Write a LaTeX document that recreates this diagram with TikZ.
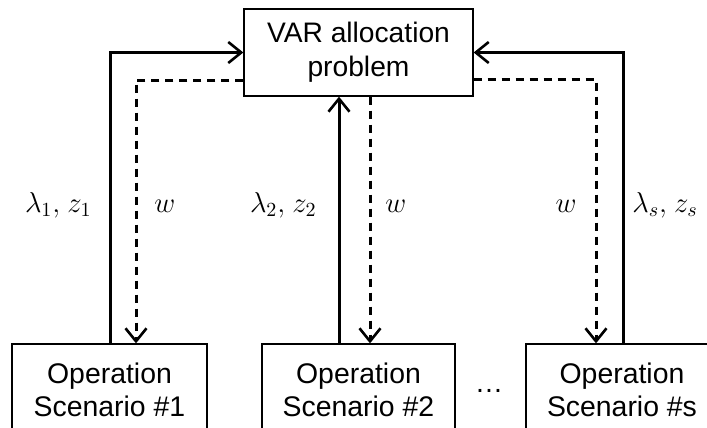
\documentclass[tikz,border=0pt]{standalone}
\usepackage{fontspec}
\setmainfont{Liberation Sans}
\usetikzlibrary{arrows.meta,calc}

\begin{document}
\begin{tikzpicture}[x=0.5pt,y=-0.5pt,
  box/.style={draw,line width=0.65pt,align=center,inner sep=0pt,
    font=\fontsize{14.2}{16.5}\selectfont},
  flow/.style={line width=1.5pt,-{Straight Barb[length=6.5pt,width=10.5pt,line width=1.3pt]}},
  dualflow/.style={flow,dash pattern=on 4pt off 3pt},
  lbl/.style={font=\fontsize{14.4}{17}\selectfont,inner sep=0pt}]
\useasboundingbox (0,0) rectangle (707,428);
\clip (0,0) rectangle (707,428);

% master problem and the scenario subproblems
\node[box,font=\fontsize{14.1}{17}\selectfont,minimum width=114.5pt,minimum height=43.5pt]
  (var) at (358.5,52.5) {VAR allocation\\problem};
\node[box,minimum width=97.5pt,minimum height=46pt] (op1) at (109.5,390)
  {Operation\\Scenario \#1};
\node[box,minimum width=96.5pt,minimum height=46pt] (op2) at (358.5,390)
  {Operation\\Scenario \#2};
\node[box,minimum width=96pt,minimum height=46pt] (op3) at (622,390)
  {Operation\\Scenario \#s};
\node[font=\fontsize{14.2}{16.5}\selectfont,anchor=base,inner sep=0pt] (dots) at (489,392) {…};

% scenario 1 exchange
\coordinate (s1) at ($(op1.north)+(0.5,0)$);
\coordinate (w1) at ($(op1.north)+(26.5,0)$);
\coordinate (v1) at ($(var.west)+(0,27.5)$);
\draw[flow] (s1) |- (var.west);
\draw[dualflow] (v1) -| (w1);

% scenario 2 exchange
\coordinate (s2) at ($(op2.north)+(-19.5,0)$);
\coordinate (w2) at ($(op2.north)+(11.5,0)$);
\draw[flow] (s2) -- (s2 |- var.south);
\draw[dualflow] (w2 |- var.south) -- (w2);

% scenario s exchange
\coordinate (s3) at ($(op3.north)+(1,0)$);
\coordinate (w3) at ($(op3.north)+(-26,0)$);
\coordinate (v3) at ($(var.east)+(0,26.5)$);
\draw[flow] (s3) |- (var.east);
\draw[dualflow] (v3) -| (w3);

% exchanged quantities
\node[lbl,anchor=base east] (l1) at (92,212) {$\lambda_1,\mskip1.5mu z_1$};
\node[lbl,anchor=base west] (d1) at (154,212) {$w$};
\node[lbl,anchor=base east] (l2) at (317,212) {$\lambda_2,\mskip1.5mu z_2$};
\node[lbl,anchor=base west] (d2) at (385,212) {$w$};
\node[lbl,anchor=base east] (d3) at (577,212) {$w$};
\node[lbl,anchor=base west] (l3) at (632,212) {$\lambda_s,\mskip1.5mu z_s$};
\end{tikzpicture}
\end{document}
